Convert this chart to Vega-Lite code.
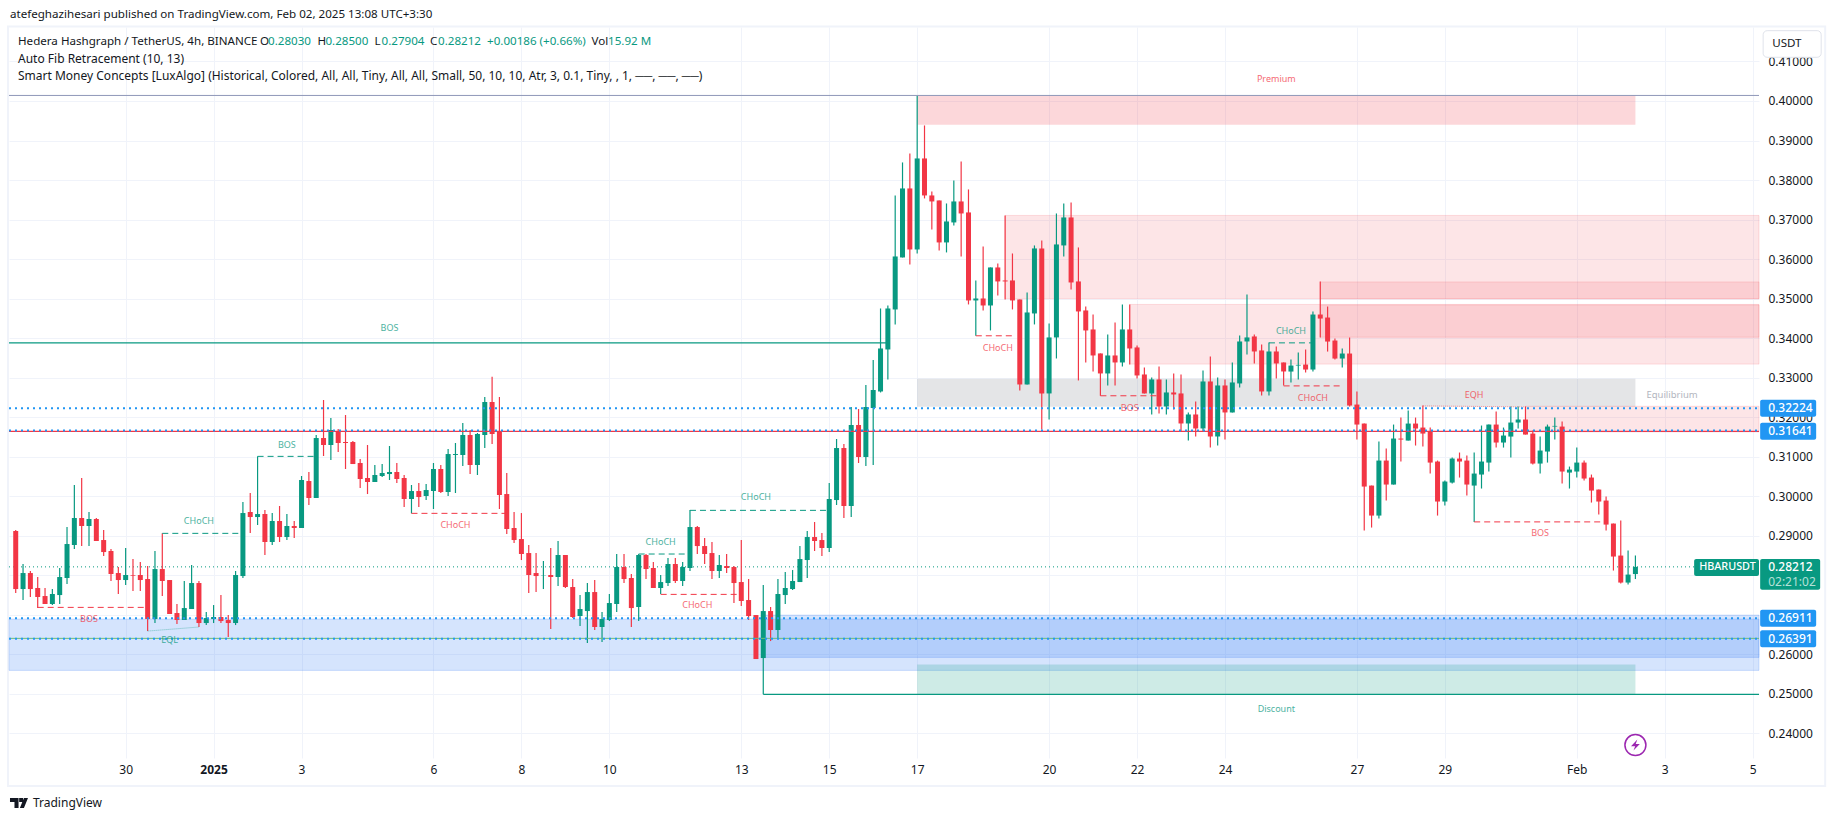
{"$schema":"https://vega.github.io/schema/vega-lite/v6.json","width":1750,"height":731,"autosize":{"type":"none"},"padding":{"left":9,"top":27,"right":76,"bottom":63},"background":"white","config":{"view":{"stroke":null},"font":"Noto Sans"},
"datasets":{
"candles":[
{"t":"2024-12-27T15:30Z","open":0.29119,"high":0.29144,"low":0.2755,"close":0.27651},
{"t":"2024-12-27T19:30Z","open":0.27651,"high":0.28284,"low":0.27373,"close":0.28056},
{"t":"2024-12-27T23:30Z","open":0.28056,"high":0.28107,"low":0.27449,"close":0.27651},
{"t":"2024-12-28T03:30Z","open":0.27677,"high":0.27955,"low":0.2717,"close":0.27449},
{"t":"2024-12-28T07:30Z","open":0.27474,"high":0.27677,"low":0.27272,"close":0.27272},
{"t":"2024-12-28T11:30Z","open":0.27272,"high":0.27651,"low":0.27246,"close":0.27525},
{"t":"2024-12-28T15:30Z","open":0.27499,"high":0.28183,"low":0.27272,"close":0.27955},
{"t":"2024-12-28T19:30Z","open":0.2793,"high":0.2922,"low":0.27778,"close":0.2879},
{"t":"2024-12-28T23:30Z","open":0.28765,"high":0.30283,"low":0.28663,"close":0.29448},
{"t":"2024-12-29T03:30Z","open":0.29448,"high":0.3046,"low":0.28739,"close":0.29246},
{"t":"2024-12-29T07:30Z","open":0.29246,"high":0.296,"low":0.28739,"close":0.29423},
{"t":"2024-12-29T11:30Z","open":0.29423,"high":0.29448,"low":0.28866,"close":0.28866},
{"t":"2024-12-29T15:30Z","open":0.28891,"high":0.29144,"low":0.28486,"close":0.28587},
{"t":"2024-12-29T19:30Z","open":0.28613,"high":0.28663,"low":0.27854,"close":0.28031},
{"t":"2024-12-29T23:30Z","open":0.28056,"high":0.28208,"low":0.27525,"close":0.27879},
{"t":"2024-12-30T03:30Z","open":0.27879,"high":0.28689,"low":0.27753,"close":0.28006},
{"t":"2024-12-30T07:30Z","open":0.28006,"high":0.2841,"low":0.27601,"close":0.27989},
{"t":"2024-12-30T11:30Z","open":0.28006,"high":0.28335,"low":0.27601,"close":0.27879},
{"t":"2024-12-30T15:30Z","open":0.27904,"high":0.28233,"low":0.26588,"close":0.26892},
{"t":"2024-12-30T19:30Z","open":0.26892,"high":0.28613,"low":0.26791,"close":0.28157},
{"t":"2024-12-30T23:30Z","open":0.28157,"high":0.2906,"low":0.27474,"close":0.27854},
{"t":"2024-12-31T03:30Z","open":0.27879,"high":0.27879,"low":0.27019,"close":0.27019},
{"t":"2024-12-31T07:30Z","open":0.27044,"high":0.27272,"low":0.26766,"close":0.26867},
{"t":"2024-12-31T11:30Z","open":0.26867,"high":0.27854,"low":0.26867,"close":0.2717},
{"t":"2024-12-31T15:30Z","open":0.27145,"high":0.28259,"low":0.27145,"close":0.27803},
{"t":"2024-12-31T19:30Z","open":0.27803,"high":0.27854,"low":0.2669,"close":0.26791},
{"t":"2024-12-31T23:30Z","open":0.26791,"high":0.27069,"low":0.2674,"close":0.26917},
{"t":"2025-01-01T03:30Z","open":0.26892,"high":0.27246,"low":0.26791,"close":0.26943},
{"t":"2025-01-01T07:30Z","open":0.26943,"high":0.27499,"low":0.26791,"close":0.26841},
{"t":"2025-01-01T11:30Z","open":0.26867,"high":0.26993,"low":0.26437,"close":0.26791},
{"t":"2025-01-01T15:30Z","open":0.26791,"high":0.28107,"low":0.2674,"close":0.28006},
{"t":"2025-01-01T19:30Z","open":0.2798,"high":0.29853,"low":0.2793,"close":0.29574},
{"t":"2025-01-01T23:30Z","open":0.296,"high":0.30081,"low":0.29068,"close":0.29473},
{"t":"2025-01-02T03:30Z","open":0.29473,"high":0.31008,"low":0.29271,"close":0.29549},
{"t":"2025-01-02T07:30Z","open":0.29549,"high":0.2965,"low":0.28512,"close":0.28841},
{"t":"2025-01-02T11:30Z","open":0.28841,"high":0.29574,"low":0.28765,"close":0.29372},
{"t":"2025-01-02T15:30Z","open":0.29372,"high":0.29752,"low":0.28841,"close":0.28967},
{"t":"2025-01-02T19:30Z","open":0.28967,"high":0.29549,"low":0.28891,"close":0.29246},
{"t":"2025-01-02T23:30Z","open":0.29246,"high":0.29372,"low":0.28942,"close":0.29195},
{"t":"2025-01-03T03:30Z","open":0.29195,"high":0.30511,"low":0.29195,"close":0.3041},
{"t":"2025-01-03T07:30Z","open":0.30384,"high":0.30612,"low":0.29777,"close":0.29954},
{"t":"2025-01-03T11:30Z","open":0.29954,"high":0.31548,"low":0.29954,"close":0.31472},
{"t":"2025-01-03T15:30Z","open":0.31472,"high":0.32434,"low":0.31017,"close":0.31295},
{"t":"2025-01-03T19:30Z","open":0.31295,"high":0.31978,"low":0.30916,"close":0.31675},
{"t":"2025-01-03T23:30Z","open":0.31649,"high":0.317,"low":0.31118,"close":0.31346},
{"t":"2025-01-04T03:30Z","open":0.31371,"high":0.32054,"low":0.30688,"close":0.31346},
{"t":"2025-01-04T07:30Z","open":0.31371,"high":0.31396,"low":0.30814,"close":0.30814},
{"t":"2025-01-04T11:30Z","open":0.3084,"high":0.30941,"low":0.30207,"close":0.30435},
{"t":"2025-01-04T15:30Z","open":0.3046,"high":0.31295,"low":0.30055,"close":0.30359},
{"t":"2025-01-04T19:30Z","open":0.30359,"high":0.30789,"low":0.30359,"close":0.30536},
{"t":"2025-01-04T23:30Z","open":0.30511,"high":0.30814,"low":0.30485,"close":0.30587},
{"t":"2025-01-05T03:30Z","open":0.30561,"high":0.3127,"low":0.3041,"close":0.30612},
{"t":"2025-01-05T07:30Z","open":0.30612,"high":0.3084,"low":0.30334,"close":0.30435},
{"t":"2025-01-05T11:30Z","open":0.3046,"high":0.30536,"low":0.29726,"close":0.29929},
{"t":"2025-01-05T15:30Z","open":0.29929,"high":0.30283,"low":0.29566,"close":0.30131},
{"t":"2025-01-05T19:30Z","open":0.30131,"high":0.30334,"low":0.29726,"close":0.29979},
{"t":"2025-01-05T23:30Z","open":0.30005,"high":0.30308,"low":0.29903,"close":0.30156},
{"t":"2025-01-06T03:30Z","open":0.30131,"high":0.3084,"low":0.29676,"close":0.30688},
{"t":"2025-01-06T07:30Z","open":0.30688,"high":0.30789,"low":0.30081,"close":0.30106},
{"t":"2025-01-06T11:30Z","open":0.30106,"high":0.31194,"low":0.30005,"close":0.31067},
{"t":"2025-01-06T15:30Z","open":0.31042,"high":0.31346,"low":0.30081,"close":0.31067},
{"t":"2025-01-06T19:30Z","open":0.31042,"high":0.31852,"low":0.30764,"close":0.31548},
{"t":"2025-01-06T23:30Z","open":0.31548,"high":0.31675,"low":0.30561,"close":0.30789},
{"t":"2025-01-07T03:30Z","open":0.30789,"high":0.31599,"low":0.30536,"close":0.31574},
{"t":"2025-01-07T07:30Z","open":0.31548,"high":0.3251,"low":0.31219,"close":0.32383},
{"t":"2025-01-07T11:30Z","open":0.32383,"high":0.33024,"low":0.3132,"close":0.31574},
{"t":"2025-01-07T15:30Z","open":0.31649,"high":0.3251,"low":0.29676,"close":0.3003},
{"t":"2025-01-07T19:30Z","open":0.30055,"high":0.30587,"low":0.29043,"close":0.2917},
{"t":"2025-01-07T23:30Z","open":0.29195,"high":0.296,"low":0.28815,"close":0.28891},
{"t":"2025-01-08T03:30Z","open":0.28916,"high":0.29574,"low":0.28385,"close":0.28537},
{"t":"2025-01-08T07:30Z","open":0.28562,"high":0.28765,"low":0.2755,"close":0.28006},
{"t":"2025-01-08T11:30Z","open":0.28056,"high":0.28562,"low":0.27575,"close":0.2798},
{"t":"2025-01-08T15:30Z","open":0.27989,"high":0.2836,"low":0.27651,"close":0.27997},
{"t":"2025-01-08T19:30Z","open":0.28006,"high":0.28689,"low":0.26639,"close":0.27955},
{"t":"2025-01-08T23:30Z","open":0.27955,"high":0.28866,"low":0.27727,"close":0.28512},
{"t":"2025-01-09T03:30Z","open":0.28512,"high":0.28512,"low":0.27677,"close":0.27702},
{"t":"2025-01-09T07:30Z","open":0.27702,"high":0.27904,"low":0.26917,"close":0.26943},
{"t":"2025-01-09T11:30Z","open":0.26968,"high":0.27499,"low":0.26715,"close":0.27145},
{"t":"2025-01-09T15:30Z","open":0.27094,"high":0.27803,"low":0.26285,"close":0.27575},
{"t":"2025-01-09T19:30Z","open":0.27575,"high":0.27879,"low":0.26614,"close":0.2669},
{"t":"2025-01-09T23:30Z","open":0.2669,"high":0.27069,"low":0.2631,"close":0.26892},
{"t":"2025-01-10T03:30Z","open":0.26867,"high":0.27525,"low":0.26841,"close":0.27297},
{"t":"2025-01-10T07:30Z","open":0.27272,"high":0.28537,"low":0.27069,"close":0.28208},
{"t":"2025-01-10T11:30Z","open":0.28208,"high":0.28537,"low":0.27803,"close":0.27904},
{"t":"2025-01-10T15:30Z","open":0.2793,"high":0.28031,"low":0.2669,"close":0.2717},
{"t":"2025-01-10T19:30Z","open":0.27196,"high":0.28537,"low":0.26841,"close":0.28512},
{"t":"2025-01-10T23:30Z","open":0.28512,"high":0.28537,"low":0.27904,"close":0.28157},
{"t":"2025-01-11T03:30Z","open":0.28183,"high":0.28335,"low":0.27677,"close":0.27677},
{"t":"2025-01-11T07:30Z","open":0.27677,"high":0.28006,"low":0.27525,"close":0.27828},
{"t":"2025-01-11T11:30Z","open":0.27803,"high":0.28436,"low":0.27727,"close":0.28284},
{"t":"2025-01-11T15:30Z","open":0.28284,"high":0.28436,"low":0.27803,"close":0.27854},
{"t":"2025-01-11T19:30Z","open":0.27854,"high":0.28335,"low":0.27727,"close":0.28208},
{"t":"2025-01-11T23:30Z","open":0.28183,"high":0.2965,"low":0.28107,"close":0.2922},
{"t":"2025-01-12T03:30Z","open":0.2922,"high":0.29246,"low":0.28537,"close":0.28739},
{"t":"2025-01-12T07:30Z","open":0.28739,"high":0.28942,"low":0.28284,"close":0.28537},
{"t":"2025-01-12T11:30Z","open":0.28562,"high":0.28841,"low":0.27904,"close":0.28107},
{"t":"2025-01-12T15:30Z","open":0.28107,"high":0.28512,"low":0.2793,"close":0.28259},
{"t":"2025-01-12T19:30Z","open":0.28233,"high":0.28537,"low":0.28056,"close":0.28183},
{"t":"2025-01-12T23:30Z","open":0.28208,"high":0.28233,"low":0.27297,"close":0.27803},
{"t":"2025-01-13T03:30Z","open":0.27828,"high":0.28891,"low":0.27221,"close":0.27348},
{"t":"2025-01-13T07:30Z","open":0.27373,"high":0.27904,"low":0.26867,"close":0.26968},
{"t":"2025-01-13T11:30Z","open":0.26993,"high":0.26993,"low":0.2588,"close":0.2588},
{"t":"2025-01-13T15:30Z","open":0.25905,"high":0.27753,"low":0.24986,"close":0.27094},
{"t":"2025-01-13T19:30Z","open":0.27094,"high":0.27196,"low":0.26335,"close":0.26614},
{"t":"2025-01-13T23:30Z","open":0.26614,"high":0.27904,"low":0.26411,"close":0.27525},
{"t":"2025-01-14T03:30Z","open":0.27499,"high":0.28082,"low":0.27272,"close":0.27677},
{"t":"2025-01-14T07:30Z","open":0.27651,"high":0.28132,"low":0.27626,"close":0.27854},
{"t":"2025-01-14T11:30Z","open":0.27828,"high":0.28739,"low":0.27828,"close":0.2841},
{"t":"2025-01-14T15:30Z","open":0.28385,"high":0.29119,"low":0.2793,"close":0.28967},
{"t":"2025-01-14T19:30Z","open":0.28967,"high":0.29347,"low":0.28613,"close":0.28866},
{"t":"2025-01-14T23:30Z","open":0.28891,"high":0.29068,"low":0.28486,"close":0.28689},
{"t":"2025-01-15T03:30Z","open":0.28689,"high":0.30334,"low":0.28587,"close":0.29929},
{"t":"2025-01-15T07:30Z","open":0.29903,"high":0.31447,"low":0.29777,"close":0.31219},
{"t":"2025-01-15T11:30Z","open":0.31219,"high":0.3132,"low":0.29448,"close":0.29752},
{"t":"2025-01-15T15:30Z","open":0.29752,"high":0.32257,"low":0.29473,"close":0.31801},
{"t":"2025-01-15T19:30Z","open":0.31801,"high":0.32206,"low":0.3084,"close":0.30992},
{"t":"2025-01-15T23:30Z","open":0.30992,"high":0.32813,"low":0.30764,"close":0.32257},
{"t":"2025-01-16T03:30Z","open":0.32231,"high":0.33446,"low":0.30789,"close":0.32687},
{"t":"2025-01-16T07:30Z","open":0.3265,"high":0.3475,"low":0.32625,"close":0.33738},
{"t":"2025-01-16T11:30Z","open":0.33713,"high":0.34826,"low":0.32954,"close":0.3475},
{"t":"2025-01-16T15:30Z","open":0.34725,"high":0.3761,"low":0.34346,"close":0.36066},
{"t":"2025-01-16T19:30Z","open":0.36041,"high":0.38445,"low":0.36041,"close":0.37787},
{"t":"2025-01-16T23:30Z","open":0.37787,"high":0.38673,"low":0.35864,"close":0.36243},
{"t":"2025-01-17T03:30Z","open":0.36243,"high":0.40132,"low":0.36142,"close":0.38546},
{"t":"2025-01-17T07:30Z","open":0.38546,"high":0.39381,"low":0.37534,"close":0.3761},
{"t":"2025-01-17T11:30Z","open":0.3761,"high":0.37711,"low":0.3675,"close":0.37458},
{"t":"2025-01-17T15:30Z","open":0.37483,"high":0.37483,"low":0.36218,"close":0.36421},
{"t":"2025-01-17T19:30Z","open":0.36421,"high":0.37407,"low":0.36168,"close":0.36952},
{"t":"2025-01-17T23:30Z","open":0.36927,"high":0.3799,"low":0.36851,"close":0.37458},
{"t":"2025-01-18T03:30Z","open":0.37458,"high":0.3847,"low":0.36066,"close":0.37154},
{"t":"2025-01-18T07:30Z","open":0.3718,"high":0.37762,"low":0.34852,"close":0.34953},
{"t":"2025-01-18T11:30Z","open":0.34953,"high":0.35459,"low":0.34059,"close":0.35003},
{"t":"2025-01-18T15:30Z","open":0.35003,"high":0.36319,"low":0.347,"close":0.34826},
{"t":"2025-01-18T19:30Z","open":0.34826,"high":0.35788,"low":0.34194,"close":0.35788},
{"t":"2025-01-18T23:30Z","open":0.35788,"high":0.35889,"low":0.35079,"close":0.35434},
{"t":"2025-01-19T03:30Z","open":0.35459,"high":0.37104,"low":0.34978,"close":0.35434},
{"t":"2025-01-19T07:30Z","open":0.35459,"high":0.36142,"low":0.34725,"close":0.34953},
{"t":"2025-01-19T11:30Z","open":0.34978,"high":0.34978,"low":0.32675,"close":0.32827},
{"t":"2025-01-19T15:30Z","open":0.32827,"high":0.35155,"low":0.32827,"close":0.34649},
{"t":"2025-01-19T19:30Z","open":0.34624,"high":0.36345,"low":0.34346,"close":0.36269},
{"t":"2025-01-19T23:30Z","open":0.36269,"high":0.36471,"low":0.31689,"close":0.326},
{"t":"2025-01-20T03:30Z","open":0.326,"high":0.34371,"low":0.31942,"close":0.34017},
{"t":"2025-01-20T07:30Z","open":0.34017,"high":0.37154,"low":0.33485,"close":0.3637},
{"t":"2025-01-20T11:30Z","open":0.36345,"high":0.37407,"low":0.36066,"close":0.37053},
{"t":"2025-01-20T15:30Z","open":0.37053,"high":0.37433,"low":0.35231,"close":0.35408},
{"t":"2025-01-20T19:30Z","open":0.35434,"high":0.36294,"low":0.32929,"close":0.34675},
{"t":"2025-01-20T23:30Z","open":0.347,"high":0.34801,"low":0.33384,"close":0.34194},
{"t":"2025-01-21T03:30Z","open":0.34219,"high":0.34599,"low":0.33156,"close":0.33561},
{"t":"2025-01-21T07:30Z","open":0.33612,"high":0.33612,"low":0.32541,"close":0.33106},
{"t":"2025-01-21T11:30Z","open":0.33106,"high":0.34093,"low":0.32802,"close":0.33561},
{"t":"2025-01-21T15:30Z","open":0.33561,"high":0.34396,"low":0.32802,"close":0.33384},
{"t":"2025-01-21T19:30Z","open":0.33384,"high":0.34852,"low":0.33283,"close":0.34219},
{"t":"2025-01-21T23:30Z","open":0.34219,"high":0.34852,"low":0.33333,"close":0.33738},
{"t":"2025-01-22T03:30Z","open":0.33764,"high":0.33814,"low":0.32979,"close":0.33055},
{"t":"2025-01-22T07:30Z","open":0.3308,"high":0.33257,"low":0.326,"close":0.326},
{"t":"2025-01-22T11:30Z","open":0.326,"high":0.33004,"low":0.32068,"close":0.32954},
{"t":"2025-01-22T15:30Z","open":0.32954,"high":0.33283,"low":0.32093,"close":0.32271},
{"t":"2025-01-22T19:30Z","open":0.32271,"high":0.32954,"low":0.32068,"close":0.32625},
{"t":"2025-01-22T23:30Z","open":0.32625,"high":0.33106,"low":0.32195,"close":0.32574},
{"t":"2025-01-23T03:30Z","open":0.326,"high":0.3308,"low":0.31638,"close":0.3184},
{"t":"2025-01-23T07:30Z","open":0.3184,"high":0.32119,"low":0.3141,"close":0.32068},
{"t":"2025-01-23T11:30Z","open":0.32068,"high":0.32397,"low":0.31511,"close":0.31714},
{"t":"2025-01-23T15:30Z","open":0.31714,"high":0.33182,"low":0.31638,"close":0.32903},
{"t":"2025-01-23T19:30Z","open":0.32903,"high":0.33536,"low":0.31233,"close":0.31511},
{"t":"2025-01-23T23:30Z","open":0.31511,"high":0.33004,"low":0.31284,"close":0.32802},
{"t":"2025-01-24T03:30Z","open":0.32802,"high":0.32954,"low":0.31435,"close":0.32119},
{"t":"2025-01-24T07:30Z","open":0.32119,"high":0.33384,"low":0.32119,"close":0.32878},
{"t":"2025-01-24T11:30Z","open":0.32853,"high":0.34067,"low":0.32751,"close":0.33915},
{"t":"2025-01-24T15:30Z","open":0.33915,"high":0.35105,"low":0.33587,"close":0.34017},
{"t":"2025-01-24T19:30Z","open":0.34042,"high":0.34093,"low":0.33359,"close":0.33662},
{"t":"2025-01-24T23:30Z","open":0.33688,"high":0.33839,"low":0.32549,"close":0.3265},
{"t":"2025-01-25T03:30Z","open":0.3265,"high":0.3389,"low":0.32549,"close":0.33662},
{"t":"2025-01-25T07:30Z","open":0.33662,"high":0.33789,"low":0.32979,"close":0.33359},
{"t":"2025-01-25T11:30Z","open":0.33384,"high":0.33384,"low":0.32802,"close":0.33156},
{"t":"2025-01-25T15:30Z","open":0.33154,"high":0.33458,"low":0.32876,"close":0.33306},
{"t":"2025-01-25T19:30Z","open":0.33306,"high":0.33635,"low":0.32952,"close":0.33323},
{"t":"2025-01-25T23:30Z","open":0.33331,"high":0.33711,"low":0.33129,"close":0.33205},
{"t":"2025-01-26T03:30Z","open":0.33205,"high":0.34673,"low":0.33154,"close":0.34597},
{"t":"2025-01-26T07:30Z","open":0.34597,"high":0.35432,"low":0.34015,"close":0.34495},
{"t":"2025-01-26T11:30Z","open":0.34521,"high":0.34799,"low":0.3366,"close":0.33913},
{"t":"2025-01-26T15:30Z","open":0.33939,"high":0.33989,"low":0.33458,"close":0.33483},
{"t":"2025-01-26T19:30Z","open":0.33483,"high":0.33736,"low":0.33255,"close":0.3361},
{"t":"2025-01-26T23:30Z","open":0.3361,"high":0.34015,"low":0.32269,"close":0.32294},
{"t":"2025-01-27T03:30Z","open":0.32319,"high":0.32648,"low":0.31433,"close":0.31813},
{"t":"2025-01-27T07:30Z","open":0.31838,"high":0.31838,"low":0.29131,"close":0.30244},
{"t":"2025-01-27T11:30Z","open":0.30269,"high":0.30269,"low":0.29207,"close":0.2951},
{"t":"2025-01-27T15:30Z","open":0.2951,"high":0.31383,"low":0.29434,"close":0.30902},
{"t":"2025-01-27T19:30Z","open":0.30902,"high":0.31206,"low":0.2989,"close":0.30295},
{"t":"2025-01-27T23:30Z","open":0.30295,"high":0.31813,"low":0.30295,"close":0.31459},
{"t":"2025-01-28T03:30Z","open":0.31459,"high":0.3199,"low":0.30877,"close":0.31433},
{"t":"2025-01-28T07:30Z","open":0.31408,"high":0.32167,"low":0.31408,"close":0.31838},
{"t":"2025-01-28T11:30Z","open":0.31838,"high":0.3199,"low":0.31282,"close":0.31712},
{"t":"2025-01-28T15:30Z","open":0.31737,"high":0.32294,"low":0.31256,"close":0.31585},
{"t":"2025-01-28T19:30Z","open":0.31627,"high":0.31737,"low":0.30573,"close":0.30851},
{"t":"2025-01-28T23:30Z","open":0.30877,"high":0.30902,"low":0.2951,"close":0.29865},
{"t":"2025-01-29T03:30Z","open":0.29865,"high":0.30396,"low":0.29763,"close":0.30371},
{"t":"2025-01-29T07:30Z","open":0.30345,"high":0.30978,"low":0.3032,"close":0.30953},
{"t":"2025-01-29T11:30Z","open":0.30953,"high":0.31105,"low":0.30472,"close":0.30877},
{"t":"2025-01-29T15:30Z","open":0.30902,"high":0.31029,"low":0.30016,"close":0.30295},
{"t":"2025-01-29T19:30Z","open":0.30269,"high":0.31105,"low":0.2935,"close":0.30573},
{"t":"2025-01-29T23:30Z","open":0.30548,"high":0.31788,"low":0.30194,"close":0.30877},
{"t":"2025-01-30T03:30Z","open":0.30851,"high":0.31813,"low":0.30624,"close":0.31813},
{"t":"2025-01-30T07:30Z","open":0.31813,"high":0.32142,"low":0.31231,"close":0.31358},
{"t":"2025-01-30T11:30Z","open":0.31358,"high":0.31737,"low":0.31231,"close":0.31535},
{"t":"2025-01-30T15:30Z","open":0.31509,"high":0.32269,"low":0.30978,"close":0.31864},
{"t":"2025-01-30T19:30Z","open":0.31864,"high":0.32269,"low":0.31712,"close":0.3194},
{"t":"2025-01-30T23:30Z","open":0.3194,"high":0.32269,"low":0.3156,"close":0.3156},
{"t":"2025-01-31T03:30Z","open":0.31585,"high":0.31661,"low":0.30801,"close":0.30826},
{"t":"2025-01-31T07:30Z","open":0.30826,"high":0.31509,"low":0.30573,"close":0.31155},
{"t":"2025-01-31T11:30Z","open":0.3113,"high":0.31813,"low":0.30851,"close":0.31762},
{"t":"2025-01-31T15:30Z","open":0.31762,"high":0.3199,"low":0.31433,"close":0.31779},
{"t":"2025-01-31T19:30Z","open":0.31762,"high":0.31889,"low":0.3032,"close":0.30624},
{"t":"2025-01-31T23:30Z","open":0.30598,"high":0.3075,"low":0.30194,"close":0.30674},
{"t":"2025-02-01T03:30Z","open":0.30624,"high":0.31231,"low":0.30472,"close":0.30851},
{"t":"2025-02-01T07:30Z","open":0.30851,"high":0.30902,"low":0.30396,"close":0.30447},
{"t":"2025-02-01T11:30Z","open":0.30472,"high":0.30548,"low":0.29839,"close":0.30143},
{"t":"2025-02-01T15:30Z","open":0.30168,"high":0.30168,"low":0.29536,"close":0.29865},
{"t":"2025-02-01T19:30Z","open":0.2989,"high":0.29991,"low":0.29131,"close":0.29282},
{"t":"2025-02-01T23:30Z","open":0.29308,"high":0.29308,"low":0.28119,"close":0.28473},
{"t":"2025-02-02T03:30Z","open":0.28498,"high":0.29384,"low":0.2779,"close":0.27815},
{"t":"2025-02-02T07:30Z","open":0.27815,"high":0.28625,"low":0.27764,"close":0.28017},
{"t":"2025-02-02T11:30Z","open":0.2803,"high":0.285,"low":0.27904,"close":0.28212}
],
"zones":[
{"zone":"liquidity","t":"2024-12-27T11:50Z","t2":"2025-02-05T06:57Z","top":0.26892,"bottom":0.25593},
{"zone":"liquidity","t":"2025-01-13T15:30Z","t2":"2025-02-05T06:57Z","top":0.26993,"bottom":0.25922},
{"zone":"premium","t":"2025-01-17T03:30Z","t2":"2025-02-02T11:30Z","top":0.4014,"bottom":0.394},
{"zone":"equilibrium","t":"2025-01-17T03:30Z","t2":"2025-02-02T11:30Z","top":0.3297,"bottom":0.32264},
{"zone":"discount","t":"2025-01-17T03:30Z","t2":"2025-02-02T11:30Z","top":0.25739,"bottom":0.24986},
{"zone":"orderblock","t":"2025-01-19T03:30Z","t2":"2025-02-05T06:57Z","top":0.37104,"bottom":0.35},
{"zone":"orderblock","t":"2025-01-21T23:30Z","t2":"2025-02-05T06:57Z","top":0.34852,"bottom":0.33342},
{"zone":"orderblock","t":"2025-01-26T07:30Z","t2":"2025-02-05T06:57Z","top":0.35423,"bottom":0.34993},
{"zone":"orderblock","t":"2025-01-26T07:30Z","t2":"2025-02-05T06:57Z","top":0.34841,"bottom":0.34023},
{"zone":"orderblock","t":"2025-01-30T23:30Z","t2":"2025-02-05T06:57Z","top":0.32275,"bottom":0.31625}
],
"solid":[
{"side":"bull","t":"2024-12-27T11:50Z","t2":"2025-01-16T11:30Z","p":0.33882},
{"side":"bull","t":"2025-01-13T15:30Z","t2":"2025-02-05T06:57Z","p":0.24986},
{"side":"bear","t":"2024-12-27T11:50Z","t2":"2025-02-05T06:57Z","p":0.3164}
],
"dashed":[
{"side":"bear","t":"2024-12-28T03:30Z","t2":"2024-12-30T15:30Z","p":0.27187},
{"side":"bear","t":"2025-01-05T15:30Z","t2":"2025-01-07T19:30Z","p":0.29566},
{"side":"bear","t":"2025-01-11T07:30Z","t2":"2025-01-13T03:30Z","p":0.27516},
{"side":"bear","t":"2025-01-18T11:30Z","t2":"2025-01-19T07:30Z","p":0.34059},
{"side":"bear","t":"2025-01-21T07:30Z","t2":"2025-01-22T15:30Z","p":0.32541},
{"side":"bear","t":"2025-01-25T11:30Z","t2":"2025-01-26T19:30Z","p":0.32791},
{"side":"bear","t":"2025-01-29T19:30Z","t2":"2025-02-01T19:30Z","p":0.2935},
{"side":"bull","t":"2025-01-02T03:30Z","t2":"2025-01-03T11:30Z","p":0.31008},
{"side":"bull","t":"2024-12-30T23:30Z","t2":"2025-01-01T19:30Z","p":0.2906},
{"side":"bull","t":"2025-01-10T19:30Z","t2":"2025-01-11T23:30Z","p":0.28537},
{"side":"bull","t":"2025-01-11T23:30Z","t2":"2025-01-15T03:30Z","p":0.29642},
{"side":"bull","t":"2025-01-25T03:30Z","t2":"2025-01-26T03:30Z","p":0.3388}
],
"equal":[
{"side":"bull","t":"2024-12-30T15:30Z","t2":"2024-12-31T19:30Z","p":0.26588,"p2":0.2669},
{"side":"bear","t":"2025-01-28T15:30Z","t2":"2025-01-30T23:30Z","p":0.32285,"p2":0.3226}
],
"labels":[
{"side":"bear","t":"2024-12-29T07:30Z","p":0.26884,"label":"BOS"},
{"side":"bear","t":"2025-01-06T15:30Z","p":0.29262,"label":"CHoCH"},
{"side":"bear","t":"2025-01-12T03:30Z","p":0.27238,"label":"CHoCH"},
{"side":"bear","t":"2025-01-18T23:30Z","p":0.33755,"label":"CHoCH"},
{"side":"bear","t":"2025-01-21T23:30Z","p":0.32228,"label":"BOS"},
{"side":"bear","t":"2025-01-26T03:30Z","p":0.32488,"label":"CHoCH"},
{"side":"bear","t":"2025-01-31T07:30Z","p":0.29063,"label":"BOS"},
{"side":"bull","t":"2025-01-02T19:30Z","p":0.31304,"label":"BOS"},
{"side":"bull","t":"2024-12-31T19:30Z","p":0.2938,"label":"CHoCH"},
{"side":"bull","t":"2025-01-11T07:30Z","p":0.28849,"label":"CHoCH"},
{"side":"bull","t":"2025-01-13T11:30Z","p":0.29971,"label":"CHoCH"},
{"side":"bull","t":"2025-01-25T15:30Z","p":0.34175,"label":"CHoCH"},
{"side":"bull","t":"2025-01-05T03:30Z","p":0.34266,"label":"BOS"},
{"side":"bear","t":"2025-01-25T07:30Z","p":0.40544,"label":"Premium"},
{"side":"bull","t":"2025-01-25T07:30Z","p":0.24615,"label":"Discount"},
{"side":"bull","t":"2024-12-31T03:30Z","p":0.26361,"label":"EQL"},
{"side":"bear","t":"2025-01-29T19:30Z","p":0.32564,"label":"EQH"}
],
"headerDark":[
{"t":"2024-12-27T12:22Z","p":0.42176,"label":"atefeghazihesari published on TradingView.com, Feb 02, 2025 13:08 UTC+3:30"},
{"t":"2024-12-27T16:45Z","p":0.41493,"label":"Hedera Hashgraph / TetherUS, 4h, BINANCE"},
{"t":"2025-01-02T04:50Z","p":0.41493,"label":"O"},
{"t":"2025-01-03T12:13Z","p":0.41493,"label":"H"},
{"t":"2025-01-04T19:19Z","p":0.41493,"label":"L"},
{"t":"2025-01-06T01:37Z","p":0.41493,"label":"C"},
{"t":"2025-01-09T17:46Z","p":0.41493,"label":"Vol"},
{"t":"2025-02-05T14:08Z","p":0.41442,"label":"USDT"}
],
"headerLines":[
{"t":"2024-12-27T16:45Z","p":0.41063,"label":"Auto Fib Retracement (10, 13)"},
{"t":"2024-12-27T16:45Z","p":0.40633,"label":"Smart Money Concepts [LuxAlgo] (Historical, Colored, All, All, Tiny, All, All, Small, 50, 10, 10, Atr, 3, 0.1, Tiny, , 1, ──, ──, ──)"}
],
"headerGreen":[
{"t":"2025-01-02T09:12Z","p":0.41493,"label":"0.28030"},
{"t":"2025-01-03T16:31Z","p":0.41493,"label":"0.28500"},
{"t":"2025-01-04T23:09Z","p":0.41493,"label":"0.27904"},
{"t":"2025-01-06T05:59Z","p":0.41493,"label":"0.28212"},
{"t":"2025-01-07T08:44Z","p":0.41493,"label":"+0.00186 (+0.66%)"},
{"t":"2025-01-10T02:47Z","p":0.41493,"label":"15.92 M"}
],
"brand":[{"t":"2024-12-28T00:55Z","p":0.22237,"label":"TradingView"}],
"brandLogo":[{"t":"2024-12-27T17:17Z","p":0.22237}],
"tags":[
{"zone":"alert","t":"2025-02-05T07:35Z","t2":"2025-02-06T14:09Z","top":0.32439,"bottom":0.32009},
{"zone":"alert","t":"2025-02-05T07:35Z","t2":"2025-02-06T14:09Z","top":0.31856,"bottom":0.31426},
{"zone":"alert","t":"2025-02-05T07:35Z","t2":"2025-02-06T14:09Z","top":0.27126,"bottom":0.26696},
{"zone":"alert","t":"2025-02-05T07:35Z","t2":"2025-02-06T14:09Z","top":0.26606,"bottom":0.26176},
{"zone":"last","t":"2025-02-05T07:35Z","t2":"2025-02-06T16:20Z","top":0.28411,"bottom":0.27634},
{"zone":"last","t":"2025-02-03T19:33Z","t2":"2025-02-05T06:57Z","top":0.28411,"bottom":0.27981}
],
"tagText":[
{"t":"2025-02-05T11:57Z","p":0.32224,"label":"0.32224"},
{"t":"2025-02-05T11:57Z","p":0.31641,"label":"0.31641"},
{"t":"2025-02-05T11:57Z","p":0.26911,"label":"0.26911"},
{"t":"2025-02-05T11:57Z","p":0.26391,"label":"0.26391"},
{"t":"2025-02-05T11:57Z","p":0.28212,"label":"0.28212"}
],
"tagName":[{"t":"2025-02-03T22:17Z","p":0.28212,"label":"HBARUSDT"}],
"countdown":[{"t":"2025-02-05T11:57Z","p":0.27836,"label":"02:21:02"}],
"equilibrium":[{"t":"2025-02-03T07:30Z","p":0.32568,"label":"Equilibrium"}],
"alertLevels":[
{"t":"2024-12-27T11:50Z","t2":"2025-02-05T06:57Z","p":0.32224},
{"t":"2024-12-27T11:50Z","t2":"2025-02-05T06:57Z","p":0.31662},
{"t":"2024-12-27T11:50Z","t2":"2025-02-05T06:57Z","p":0.26911},
{"t":"2024-12-27T11:50Z","t2":"2025-02-05T06:57Z","p":0.26391}
],
"fibTop":[{"t":"2024-12-27T11:50Z","t2":"2025-02-05T06:57Z","p":0.4014}],
"fibLow":[{"t":"2024-12-27T11:50Z","t2":"2025-02-05T06:57Z","p":0.26403}],
"lastPrice":[{"t":"2024-12-27T11:50Z","t2":"2025-02-03T19:33Z","p":0.28212}],
"usdtBox":[{"t":"2025-02-05T09:13Z","t2":"2025-02-06T16:53Z","top":0.41779,"bottom":0.41106}],
"frame":[{"t":"2024-12-27T11:17Z","t2":"2025-02-06T19:04Z","top":0.41885,"bottom":0.22667}],
"bolt":[{"t":"2025-02-02T11:30Z","p":0.23704}]
},
"layer":[
{"data":{"name":"frame"},"mark":{"type":"rect","fill":"transparent","stroke":"#f0f3fa","strokeWidth":2,"clip":false},
"encoding":{"x":{"field":"t","type":"temporal","scale":{"type":"utc","padding":0,"domain":["2024-12-27T11:50:00Z","2025-02-05T06:57:00Z"]},
"axis":{"title":null,"orient":"bottom","values":["2024-12-30T03:30Z","2025-01-01T03:30Z","2025-01-03T03:30Z","2025-01-06T03:30Z","2025-01-08T03:30Z","2025-01-10T03:30Z","2025-01-13T03:30Z","2025-01-15T03:30Z","2025-01-17T03:30Z","2025-01-20T03:30Z","2025-01-22T03:30Z","2025-01-24T03:30Z","2025-01-27T03:30Z","2025-01-29T03:30Z","2025-02-01T03:30Z","2025-02-03T03:30Z","2025-02-05T03:30Z"],
"labelExpr":"utcFormat(datum.value,'%b %-d')=='Jan 1'?'2025':utcFormat(datum.value,'%-d')=='1'?'Feb':utcFormat(datum.value,'%-d')",
"labelFontWeight":{"condition":{"test":"utcFormat(datum.value,'%b %-d')=='Jan 1'","value":"bold"},"value":"normal"},
"grid":true,"gridColor":"#f0f3fa","gridWidth":1,"ticks":false,"domain":false,"labelColor":"#131722","labelFontSize":12,"labelPadding":6,"labelOverlap":false,"labelBound":false,"labelFlush":false,"labelFont":"Noto Sans"}},
"x2":{"field":"t2"},
"y":{"field":"top","type":"quantitative","scale":{"domain":[0.23376,0.41872],"nice":false,"zero":false},
"axis":{"title":null,"orient":"right","values":[0.24,0.25,0.26,0.27,0.28,0.29,0.3,0.31,0.32,0.33,0.34,0.35,0.36,0.37,0.38,0.39,0.4,0.41],"format":".5f","grid":true,"gridColor":"#f0f3fa","gridWidth":1,"ticks":false,"domain":false,"labelColor":"#131722","labelFontSize":12,"labelPadding":9,"labelOverlap":false,"labelBound":false,"labelFont":"Noto Sans"}},
"y2":{"field":"bottom"}}},
{"data":{"name":"zones"},"mark":{"type":"rect","strokeWidth":1},
"encoding":{"x":{"field":"t","type":"temporal"},"x2":{"field":"t2"},"y":{"field":"top","type":"quantitative"},"y2":{"field":"bottom"},
"fill":{"field":"zone","type":"nominal","legend":null,"scale":{"domain":["liquidity","premium","equilibrium","discount","orderblock","alert","last"],"range":["rgba(33,110,245,0.19)","rgba(242,54,69,0.2)","rgba(120,123,134,0.2)","rgba(8,153,129,0.2)","rgba(242,54,69,0.13)","#2196f3","#089981"]}},
"stroke":{"field":"zone","type":"nominal","legend":null,"scale":{"domain":["liquidity","premium","equilibrium","discount","orderblock"],"range":["rgba(33,110,245,0.18)","rgba(0,0,0,0)","rgba(0,0,0,0)","rgba(0,0,0,0)","rgba(242,54,69,0.15)"]}}}},
{"data":{"name":"lastPrice"},"mark":{"type":"rule","color":"#089981","strokeWidth":1,"strokeDash":[1,3]},"encoding":{"x":{"field":"t","type":"temporal"},"x2":{"field":"t2"},"y":{"field":"p","type":"quantitative"}}},
{"data":{"name":"candles"},"mark":{"type":"rule","strokeWidth":1.2},"encoding":{"x":{"field":"t","type":"temporal"},"y":{"field":"low","type":"quantitative"},"y2":{"field":"high"},"color":{"condition":{"test":"datum.close>=datum.open","value":"#089981"},"value":"#f23645"}}},
{"data":{"name":"candles"},"mark":{"type":"bar","size":5},"encoding":{"x":{"field":"t","type":"temporal"},"y":{"field":"open","type":"quantitative"},"y2":{"field":"close"},"color":{"condition":{"test":"datum.close>=datum.open","value":"#089981"},"value":"#f23645"}}},
{"data":{"name":"fibTop"},"mark":{"type":"rule","color":"#8f97b8","strokeWidth":1},"encoding":{"x":{"field":"t","type":"temporal"},"x2":{"field":"t2"},"y":{"field":"p","type":"quantitative"}}},
{"data":{"name":"fibLow"},"mark":{"type":"rule","color":"#6fbf73","strokeWidth":1},"encoding":{"x":{"field":"t","type":"temporal"},"x2":{"field":"t2"},"y":{"field":"p","type":"quantitative"}}},
{"data":{"name":"solid"},"mark":{"type":"rule","strokeWidth":1.3},"encoding":{"x":{"field":"t","type":"temporal"},"x2":{"field":"t2"},"y":{"field":"p","type":"quantitative"},"color":{"field":"side","type":"nominal","legend":null,"scale":{"domain":["bull","bear"],"range":["#089981","#f23645"]}}}},
{"data":{"name":"dashed"},"mark":{"type":"rule","strokeWidth":1,"strokeDash":[6,4]},"encoding":{"x":{"field":"t","type":"temporal"},"x2":{"field":"t2"},"y":{"field":"p","type":"quantitative"},"color":{"field":"side","type":"nominal","legend":null}}},
{"data":{"name":"equal"},"mark":{"type":"rule","strokeWidth":1,"strokeDash":[1,1],"opacity":0.5},"encoding":{"x":{"field":"t","type":"temporal"},"x2":{"field":"t2"},"y":{"field":"p","type":"quantitative"},"y2":{"field":"p2"},"color":{"field":"side","type":"nominal","legend":null}}},
{"data":{"name":"alertLevels"},"mark":{"type":"rule","color":"#2196f3","strokeWidth":2,"strokeDash":[2,4]},"encoding":{"x":{"field":"t","type":"temporal"},"x2":{"field":"t2"},"y":{"field":"p","type":"quantitative"}}},
{"data":{"name":"labels"},"mark":{"type":"text","fontSize":9,"opacity":0.75,"align":"center","baseline":"middle"},"encoding":{"x":{"field":"t","type":"temporal"},"y":{"field":"p","type":"quantitative"},"text":{"field":"label"},"color":{"field":"side","type":"nominal","legend":null}}},
{"data":{"name":"equilibrium"},"mark":{"type":"text","fontSize":9.5,"color":"#b2b5be","align":"center","baseline":"middle"},"encoding":{"x":{"field":"t","type":"temporal"},"y":{"field":"p","type":"quantitative"},"text":{"field":"label"}}},
{"data":{"name":"usdtBox"},"mark":{"type":"rect","fill":"white","stroke":"#e0e3eb","strokeWidth":1,"cornerRadius":4},"encoding":{"x":{"field":"t","type":"temporal"},"x2":{"field":"t2"},"y":{"field":"top","type":"quantitative"},"y2":{"field":"bottom"}}},
{"data":{"name":"headerDark"},"mark":{"type":"text","fontSize":11.6,"color":"#131722","align":"left","baseline":"middle"},"encoding":{"x":{"field":"t","type":"temporal"},"y":{"field":"p","type":"quantitative"},"text":{"field":"label"}}},
{"data":{"name":"headerLines"},"mark":{"type":"text","fontSize":12,"color":"#131722","align":"left","baseline":"middle"},"encoding":{"x":{"field":"t","type":"temporal"},"y":{"field":"p","type":"quantitative"},"text":{"field":"label"}}},
{"data":{"name":"headerGreen"},"mark":{"type":"text","fontSize":11.6,"color":"#089981","align":"left","baseline":"middle"},"encoding":{"x":{"field":"t","type":"temporal"},"y":{"field":"p","type":"quantitative"},"text":{"field":"label"}}},
{"data":{"name":"tags"},"mark":{"type":"rect","cornerRadius":2},"encoding":{"x":{"field":"t","type":"temporal"},"x2":{"field":"t2"},"y":{"field":"top","type":"quantitative"},"y2":{"field":"bottom"},"fill":{"field":"zone","type":"nominal","legend":null}}},
{"data":{"name":"tagText"},"mark":{"type":"text","fontSize":12,"fontWeight":500,"color":"white","align":"left","baseline":"middle"},"encoding":{"x":{"field":"t","type":"temporal"},"y":{"field":"p","type":"quantitative"},"text":{"field":"label"}}},
{"data":{"name":"tagName"},"mark":{"type":"text","fontSize":10.8,"fontWeight":500,"color":"white","align":"left","baseline":"middle"},"encoding":{"x":{"field":"t","type":"temporal"},"y":{"field":"p","type":"quantitative"},"text":{"field":"label"}}},
{"data":{"name":"countdown"},"mark":{"type":"text","fontSize":12,"color":"#b5e0d8","align":"left","baseline":"middle"},"encoding":{"x":{"field":"t","type":"temporal"},"y":{"field":"p","type":"quantitative"},"text":{"field":"label"}}},
{"data":{"name":"bolt"},"mark":{"type":"point","shape":"circle","size":441,"filled":false,"color":"#9c27b0","strokeWidth":1.5,"opacity":1},"encoding":{"x":{"field":"t","type":"temporal"},"y":{"field":"p","type":"quantitative"}}},
{"data":{"name":"bolt"},"mark":{"type":"point","shape":"M0.35,-1L-0.8,0.2H-0.05L-0.35,1L0.8,-0.2H0.05Z","size":121,"filled":true,"color":"#9c27b0","opacity":1},"encoding":{"x":{"field":"t","type":"temporal"},"y":{"field":"p","type":"quantitative"}}},
{"data":{"name":"brandLogo"},"mark":{"type":"point","shape":"M-1,-0.55H-0.05V0.55H-0.5V-0.1H-1ZM0.02,-0.55H0.45L0.45,-0.1H0.02ZM0.55,-0.55H1L0.55,0.55H0.1Z","size":324,"filled":true,"color":"#131722","opacity":1},"encoding":{"x":{"field":"t","type":"temporal"},"y":{"field":"p","type":"quantitative"}}},
{"data":{"name":"brand"},"mark":{"type":"text","fontSize":12,"color":"#131722","align":"left","baseline":"middle"},"encoding":{"x":{"field":"t","type":"temporal"},"y":{"field":"p","type":"quantitative"},"text":{"field":"label"}}}
]}
